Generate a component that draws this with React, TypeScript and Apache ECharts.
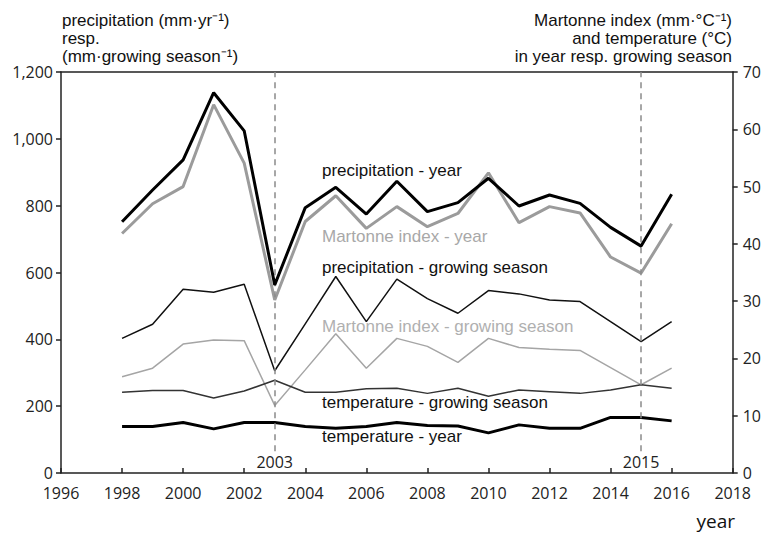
import React, { useEffect, useRef } from "react";
import * as echarts from "echarts";

const years = [1998, 1999, 2000, 2001, 2002, 2003, 2004, 2005, 2006, 2007, 2008, 2009, 2010, 2011, 2012, 2013, 2014, 2015, 2016];
const precipYear = [752, 847, 937, 1138, 1024, 563, 794, 855, 775, 873, 782, 809, 882, 799, 832, 807, 735, 679, 834];
const precipGrowing = [403, 445, 550, 541, 565, 306, 446, 588, 453, 580, 522, 478, 546, 536, 518, 513, 453, 393, 453];
const martonneYear = [41.8, 47.0, 50.0, 64.3, 54.1, 30.2, 43.9, 48.4, 42.7, 46.5, 43.0, 45.3, 52.4, 43.7, 46.5, 45.4, 37.7, 34.9, 43.5];
const martonneGrowing = [16.8, 18.3, 22.5, 23.2, 23.1, 11.8, 18.0, 24.3, 18.3, 23.5, 22.1, 19.3, 23.5, 21.9, 21.6, 21.4, 18.4, 15.4, 18.3];
const tempGrowing = [14.1, 14.4, 14.4, 13.1, 14.3, 16.2, 14.1, 14.1, 14.7, 14.8, 13.9, 14.8, 13.4, 14.5, 14.2, 13.9, 14.5, 15.4, 14.8];
const tempYear = [8.1, 8.1, 8.8, 7.7, 8.8, 8.8, 8.1, 7.8, 8.1, 8.8, 8.3, 8.2, 7.0, 8.4, 7.8, 7.8, 9.7, 9.7, 9.1];
const markedYears = [2003, 2015];

const leftTitle = ["precipitation (mm·yr⁻¹)", "resp.", "(mm·growing season⁻¹)"];
const rightTitle = ["Martonne index (mm·°C⁻¹)", "and temperature (°C)", "in year resp. growing season"];

const pairs = (vals: number[]) => years.map((y, i) => [y, vals[i]]);

const TEXT_FONT = "'Liberation Sans', Arial, sans-serif";
const TICK_FONT = "'Open Sans', sans-serif";

export default function App() {
  const ref = useRef<HTMLDivElement>(null);
  useEffect(() => {
    document.body.style.margin = "0";
    const chart = echarts.init(ref.current!, null, { renderer: "svg" });
    const axisLine = { show: true, onZero: false, lineStyle: { color: "#222", width: 1.5 } };
    const tickLabel = { fontFamily: TICK_FONT, fontSize: 16, color: "#222" };
    const seriesLabel = (text: string, y: number, color: string) => ({
      type: "text",
      left: 322,
      top: y - 10,
      style: { text, fontFamily: TEXT_FONT, fontSize: 17, fill: color },
    });
    chart.setOption({
      animation: false,
      backgroundColor: "#fff",
      grid: { left: 61, right: 31, top: 72, bottom: 63 },
      xAxis: [
        {
          type: "value",
          min: 1996,
          max: 2018,
          interval: 2,
          position: "bottom",
          axisLine,
          axisTick: { show: true, inside: true, length: 5, lineStyle: { color: "#222", width: 1.5 } },
          axisLabel: { ...tickLabel, margin: 12, formatter: (v: number) => String(v) },
          splitLine: { show: false },
        },
        {
          type: "value",
          min: 1996,
          max: 2018,
          position: "top",
          axisLine,
          axisTick: { show: false },
          axisLabel: { show: false },
          splitLine: { show: false },
        },
      ],
      yAxis: [
        {
          type: "value",
          min: 0,
          max: 1200,
          interval: 200,
          position: "left",
          axisLine,
          axisTick: { show: true, length: 5, lineStyle: { color: "#222", width: 1.5 } },
          axisLabel: {
            ...tickLabel,
            margin: 8,
            formatter: (v: number) => v.toLocaleString("en-US"),
          },
          splitLine: { show: false },
        },
        {
          type: "value",
          min: 0,
          max: 70,
          interval: 10,
          position: "right",
          axisLine,
          axisTick: { show: true, length: 5, lineStyle: { color: "#222", width: 1.5 } },
          axisLabel: { ...tickLabel, margin: 10 },
          splitLine: { show: false },
        },
      ],
      series: [
        {
          name: "precipitation - year",
          type: "line",
          yAxisIndex: 0,
          data: pairs(precipYear),
          symbol: "none",
          lineStyle: { color: "#000", width: 3 },
          z: 5,
          markLine: {
            silent: true,
            symbol: "none",
            lineStyle: { type: [6, 5], color: "#8a8a8a", width: 1.5 },
            label: {
              show: true,
              position: "start",
              distance: 3,
              formatter: "{b}",
              fontFamily: TICK_FONT,
              fontSize: 16,
              color: "#222",
            },
            data: markedYears.map((y) => [
              { name: String(y), coord: [y, 65] },
              { coord: [y, 1200] },
            ]),
          },
        },
        {
          name: "Martonne index - year",
          type: "line",
          yAxisIndex: 1,
          data: pairs(martonneYear),
          symbol: "none",
          lineStyle: { color: "#9b9b9b", width: 3 },
          z: 4,
        },
        {
          name: "precipitation - growing season",
          type: "line",
          yAxisIndex: 0,
          data: pairs(precipGrowing),
          symbol: "none",
          lineStyle: { color: "#111", width: 1.5 },
        },
        {
          name: "Martonne index - growing season",
          type: "line",
          yAxisIndex: 1,
          data: pairs(martonneGrowing),
          symbol: "none",
          lineStyle: { color: "#a5a5a5", width: 1.5 },
        },
        {
          name: "temperature - growing season",
          type: "line",
          yAxisIndex: 1,
          data: pairs(tempGrowing),
          symbol: "none",
          lineStyle: { color: "#333", width: 1.5 },
        },
        {
          name: "temperature - year",
          type: "line",
          yAxisIndex: 1,
          data: pairs(tempYear),
          symbol: "none",
          lineStyle: { color: "#000", width: 3 },
        },
      ],
      graphic: [
        ...leftTitle.map((t, i) => ({
          type: "text",
          left: 62,
          top: 12 + i * 18,
          style: { text: t, fontFamily: TEXT_FONT, fontSize: 17, fill: "#111" },
        })),
        ...rightTitle.map((t, i) => ({
          type: "text",
          right: 32,
          top: 12 + i * 18,
          style: { text: t, fontFamily: TEXT_FONT, fontSize: 17, fill: "#111", textAlign: "right" },
        })),
        seriesLabel("precipitation - year", 172, "#111"),
        seriesLabel("Martonne index - year", 238, "#a8a8a8"),
        seriesLabel("precipitation - growing season", 269, "#111"),
        seriesLabel("Martonne index - growing season", 328, "#b0b0b0"),
        seriesLabel("temperature - growing season", 404, "#111"),
        seriesLabel("temperature - year", 438, "#111"),
        {
          type: "text",
          right: 29,
          top: 511,
          style: { text: "year", fontFamily: TICK_FONT, fontSize: 19, fill: "#111" },
        },
      ],
    });
    return () => chart.dispose();
  }, []);
  return <div ref={ref} style={{ width: 764, height: 536 }} />;
}
